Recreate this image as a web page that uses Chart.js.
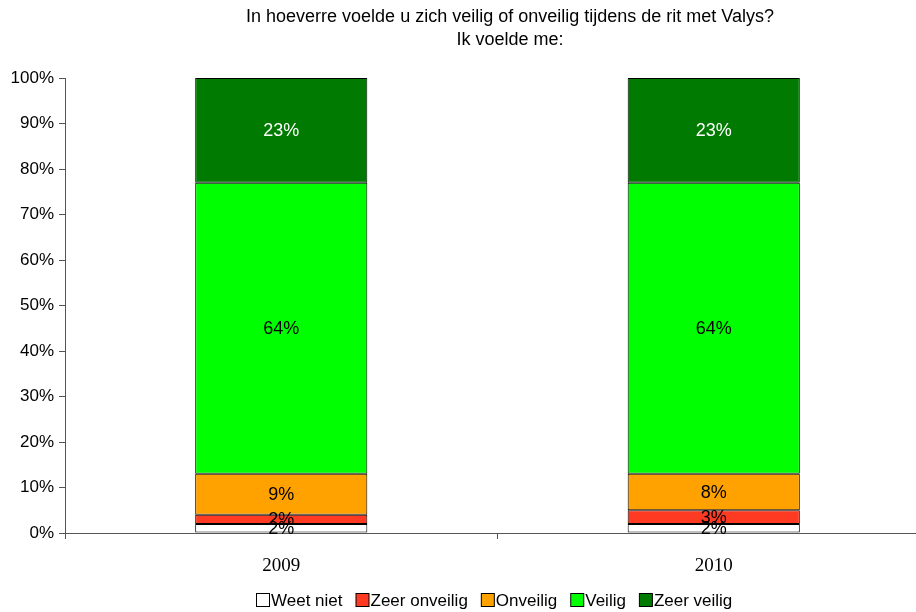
<!DOCTYPE html>
<html>
<head>
<meta charset="utf-8">
<script src="https://cdn.jsdelivr.net/npm/chart.js@4/dist/chart.umd.min.js"></script>
<style>
html,body{margin:0;padding:0;background:#fff;overflow:hidden;width:916px;height:612px;}
#wrap{position:relative;width:930px;height:612px;}
</style>
</head>
<body>
<div id="wrap"><canvas id="c" width="930" height="612"></canvas></div>
<script>
const categories = ['2009', '2010'];
const seriesNames = ['Weet niet', 'Zeer onveilig', 'Onveilig', 'Veilig', 'Zeer veilig'];
const weetNiet = [2, 2];
const zeerOnveilig = [2, 3];
const onveilig = [9, 8];
const veilig = [64, 64];
const zeerVeilig = [23, 23];
const yTicks = [0, 10, 20, 30, 40, 50, 60, 70, 80, 90, 100];
const titleLines = ['In hoeverre voelde u zich veilig of onveilig tijdens de rit met Valys?', 'Ik voelde me:'];

const colors = ['#ffffff', '#ff3a22', '#ffa200', '#00ff00', '#007a00'];
const labelColors = ['#000', '#000', '#000', '#000', '#fff'];
const seriesValues = [weetNiet, zeerOnveilig, onveilig, veilig, zeerVeilig];

const SANS = '"Liberation Sans", Arial, sans-serif';

const labelPlugin = {
  id: 'segLabels',
  afterDatasetsDraw(chart) {
    const ctx = chart.ctx;
    ctx.save();
    ctx.font = '18px ' + SANS;
    ctx.textAlign = 'center';
    ctx.textBaseline = 'middle';
    chart.data.datasets.forEach((ds, i) => {
      const meta = chart.getDatasetMeta(i);
      meta.data.forEach((bar, j) => {
        const v = ds.data[j];
        const yc = (bar.y + bar.base) / 2 + 1;
        ctx.fillStyle = labelColors[i];
        ctx.fillText(v + '%', bar.x, yc);
      });
    });
    ctx.restore();
  }
};

const titleLegendPlugin = {
  id: 'titleLegend',
  afterDraw(chart) {
    const ctx = chart.ctx;
    ctx.save();
    ctx.fillStyle = '#000';
    ctx.font = '18px ' + SANS;
    ctx.textAlign = 'center';
    ctx.textBaseline = 'middle';
    ctx.fillText(titleLines[0], 510, 17);
    ctx.fillText(titleLines[1], 510, 40);
    // legend
    ctx.font = '17px ' + SANS;
    ctx.textAlign = 'left';
    let x = 256;
    const y = 601;
    chart.data.datasets.forEach((ds, i) => {
      ctx.fillStyle = ds.backgroundColor;
      ctx.fillRect(x + 0.5, y - 7.5, 13, 13);
      ctx.strokeStyle = '#000';
      ctx.lineWidth = 1;
      ctx.strokeRect(x + 0.5, y - 7.5, 13, 13);
      ctx.fillStyle = '#000';
      ctx.fillText(ds.label, x + 15, y);
      x += 15 + ctx.measureText(ds.label).width + 13;
    });
    ctx.restore();
  }
};

const datasets = seriesNames.map((name, i) => ({
  label: name,
  data: seriesValues[i],
  backgroundColor: colors[i],
  borderColor: '#000',
  borderWidth: 1,
  borderSkipped: false,
  categoryPercentage: 1,
  barPercentage: 0.398
}));

new Chart(document.getElementById('c'), {
  type: 'bar',
  data: { labels: categories, datasets },
  plugins: [labelPlugin, titleLegendPlugin],
  options: {
    responsive: false,
    animation: false,
    events: [],
    layout: { padding: { left: 0, top: 78, right: 0, bottom: 0 } },
    plugins: { legend: { display: false }, title: { display: false }, tooltip: { enabled: false } },
    scales: {
      x: {
        stacked: true,
        grid: { display: true, drawOnChartArea: false, drawTicks: true, tickLength: 6, color: '#555', offset: true },
        border: { display: true, color: '#555', width: 1 },
        ticks: { color: '#000', font: { family: '"Liberation Serif", "Times New Roman", serif', size: 19 }, padding: 16 },
        afterFit(s) { s.height = 79; }
      },
      y: {
        stacked: true,
        min: 0,
        max: 100,
        afterBuildTicks(s) { s.ticks = yTicks.map(v => ({ value: v })); },
        grid: { display: true, drawOnChartArea: false, drawTicks: true, tickLength: 6, color: '#555' },
        border: { display: true, color: '#555', width: 1 },
        ticks: { color: '#000', font: { family: SANS, size: 17 }, padding: 5, callback: v => v + '%' },
        afterFit(s) { s.width = 65; }
      }
    }
  }
});
</script>
</body>
</html>
